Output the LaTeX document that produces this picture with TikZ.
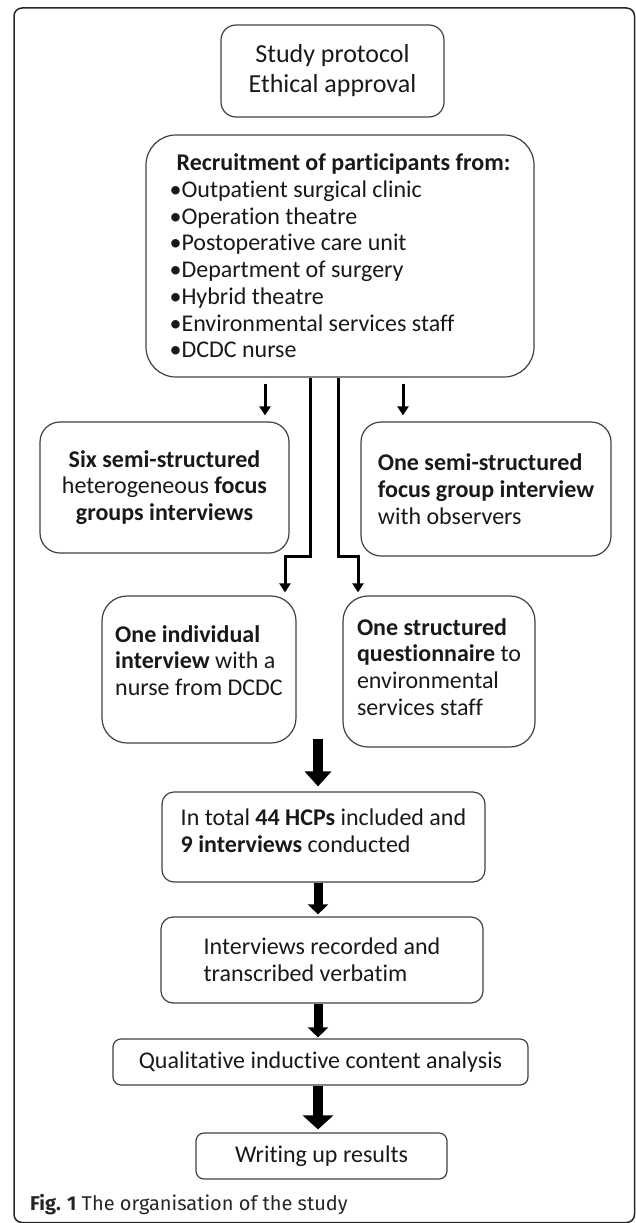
\documentclass[tikz,border=0pt]{standalone}
\usepackage{fontspec}
\setmainfont{Carlito}[Ligatures=NoCommon]
\newfontfamily\capfont{Fira Sans}
\usetikzlibrary{arrows.meta,calc}

\begin{document}
\begin{tikzpicture}[x=1pt,y=-1pt,
  box/.style={draw=black!75, line width=1.2pt, inner sep=0pt, align=left,
    text=black!90, font=\fontsize{24}{26.7}\selectfont},
  txt/.style={inner sep=0pt, align=left, text=black!90,
    font=\fontsize{24}{26.7}\selectfont},
  conn/.style={line width=3pt, -{Triangle[width=11pt,length=9pt]}},
  bigarrow/.style={line width=10pt, -{Triangle[width=26pt,length=15pt]}},
  midarrow/.style={line width=9pt, -{Triangle[width=20pt,length=10pt]}},
  endarrow/.style={line width=10pt, -{Triangle[width=30pt,length=14pt]}}]

\useasboundingbox (0,0) rectangle (635,1223);

% outer frame
\draw[line width=1.5pt, black!85, rounded corners=8pt] (14,8) rectangle (634.5,1222.5);

% boxes
\node[box, rounded corners=15pt, minimum width=223pt, minimum height=92pt,
  align=center, font=\fontsize{26}{30}\selectfont] (study) at (332.5,71)
  {Study protocol\\Ethical approval};

\node[box, rounded corners=30pt, minimum width=388pt, minimum height=242pt] (rec) at (340,256)
  {\hspace*{7pt}\textbf{Recruitment of participants from:}\\
   •Outpatient surgical clinic\\
   •Operation theatre\\
   •Postoperative care unit\\
   •Department of surgery\\
   •Hybrid theatre\\
   •Environmental services staff\\
   •DCDC nurse};

\node[box, rounded corners=20pt, minimum width=249pt, minimum height=131pt, align=center] (b3) at (164.5,487.5)
  {\textbf{Six semi-structured}\\heterogeneous \textbf{focus}\\\textbf{groups interviews}};

\node[box, rounded corners=20pt, minimum width=250pt, minimum height=134pt] (b4) at (486,489)
  {\textbf{One semi-structured}\\\textbf{focus group interview}\\with observers};

\node[box, rounded corners=25pt, minimum width=194pt, minimum height=147pt,
  label={[txt, yshift=9pt]center:{\textbf{One individual}\\\textbf{interview} with a\\nurse from DCDC}}]
  (b5) at (199,669.5) {};

\node[box, rounded corners=25pt, minimum width=192pt, minimum height=151pt,
  label={[txt, yshift=4.5pt]center:{\textbf{One structured}\\\textbf{questionnaire} to\\environmental\\services staff}}]
  (b6) at (439,671.5) {};

\node[box, rounded corners=12pt, minimum width=323pt, minimum height=90pt,
  label={[txt, yshift=6.5pt]center:{In total \textbf{44 HCPs} included and\\\textbf{9 interviews} conducted}}]
  (b7) at (323.5,837) {};

\node[box, rounded corners=12pt, minimum width=322pt, minimum height=86pt] (b8) at (322,960)
  {Interviews recorded and\\transcribed verbatim};

\node[box, rounded corners=8pt, minimum width=415pt, minimum height=46pt] (b9) at (320.5,1062)
  {Qualitative inductive content analysis};

\node[box, rounded corners=8pt, minimum width=251pt, minimum height=46pt] (b10) at (321.5,1156)
  {Writing up results};

% caption
\node[anchor=base west, inner sep=0pt, text=black!85, font=\capfont\fontsize{20}{24}\selectfont] (cap) at (30,1210)
  {\textbf{Fig. 1} The organisation of the study};

% connectors from the recruitment box
\draw[conn] ([xshift=-75pt,yshift=-6pt]rec.south) -- ([xshift=-75pt]rec.south |- b3.north) [shorten >=6pt];
\draw[conn] ([xshift=63pt,yshift=-6pt]rec.south) -- ([xshift=63pt]rec.south |- b4.north) [shorten >=6pt];
\draw[conn, shorten >=3pt] ([xshift=-30pt]rec.south) -- ++(0,179) -| ([xshift=86pt]b5.north);
\draw[conn, shorten >=3pt] ([xshift=-2pt]rec.south) -- ++(0,179) -| ([xshift=-81pt]b6.north);

% main flow
\coordinate (a1) at ($(b5.south)!.5!(b6.south)+(-1,-7)$);
\draw[bigarrow, shorten >=5pt] (a1) -- (a1 |- b7.north);
\draw[midarrow, shorten >=2pt] (b7.south -| a1) -- (b8.north -| a1);
\draw[midarrow, shorten >=1pt] (b8.south -| a1) -- (b9.north -| a1);
\draw[endarrow, shorten >=3pt] (b9.south -| a1) -- (b10.north -| a1);

\end{tikzpicture}
\end{document}
